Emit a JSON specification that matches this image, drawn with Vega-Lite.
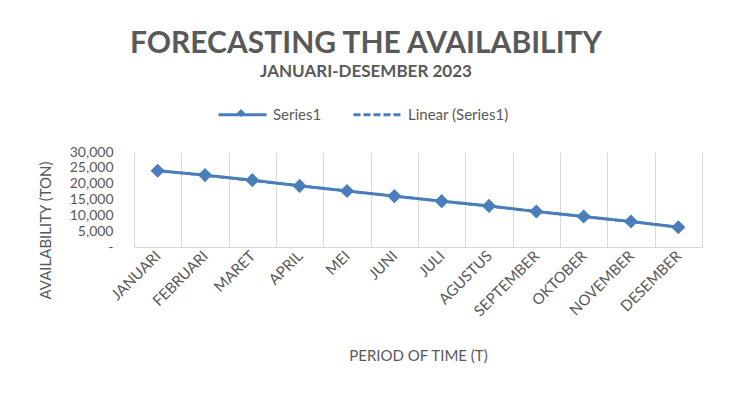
{
  "$schema": "https://vega.github.io/schema/vega-lite/v6.json",
  "width": 568,
  "height": 95,
  "autosize": "none",
  "padding": {"left": 134, "top": 152, "right": 28, "bottom": 153},
  "background": "white",
  "datasets": {
    "src": [
      {"Bulan": "JANUARI", "n": 1, "Availability": 24070},
      {"Bulan": "FEBRUARI", "n": 2, "Availability": 22700},
      {"Bulan": "MARET", "n": 3, "Availability": 21100},
      {"Bulan": "APRIL", "n": 4, "Availability": 19300},
      {"Bulan": "MEI", "n": 5, "Availability": 17700},
      {"Bulan": "JUNI", "n": 6, "Availability": 16050},
      {"Bulan": "JULI", "n": 7, "Availability": 14470},
      {"Bulan": "AGUSTUS", "n": 8, "Availability": 12980},
      {"Bulan": "SEPTEMBER", "n": 9, "Availability": 11200},
      {"Bulan": "OKTOBER", "n": 10, "Availability": 9630},
      {"Bulan": "NOVEMBER", "n": 11, "Availability": 8040},
      {"Bulan": "DESEMBER", "n": 12, "Availability": 6240}
    ]
  },
  "data": {"name": "src"},
  "title": {
    "text": "FORECASTING THE AVAILABILITY",
    "subtitle": "JANUARI-DESEMBER 2023",
    "anchor": "middle",
    "frame": "group",
    "dx": -52,
    "offset": 9,
    "font": "Lato",
    "fontSize": 30,
    "fontWeight": "bold",
    "color": "#595959",
    "subtitleFont": "Lato",
    "subtitleFontSize": 17,
    "subtitleFontWeight": "bold",
    "subtitleColor": "#595959",
    "subtitlePadding": 5
  },
  "config": {
    "view": {"stroke": null},
    "font": "Lato"
  },
  "encoding": {
    "x": {
      "field": "Bulan",
      "type": "nominal",
      "sort": null,
      "scale": {"type": "band", "paddingInner": 0, "paddingOuter": 0,
        "domain": ["JANUARI","FEBRUARI","MARET","APRIL","MEI","JUNI","JULI","AGUSTUS","SEPTEMBER","OKTOBER","NOVEMBER","DESEMBER"]},
      "axis": {
        "title": "PERIOD OF TIME (T)",
        "titleFont": "Lato",
        "titleFontSize": 15,
        "titleFontWeight": "normal",
        "titleColor": "#595959",
        "titleY": 108,
        "titleBaseline": "middle",
        "labelAngle": -45,
        "labelAlign": "right",
        "labelBaseline": "middle",
        "labelFont": "Lato",
        "labelFontSize": 15,
        "labelColor": "#595959",
        "labelPadding": 6,
        "ticks": false,
        "tickBand": "extent",
        "grid": true,
        "gridColor": "#d9d9d9",
        "gridWidth": 1,
        "domainColor": "#d9d9d9",
        "domainWidth": 1
      }
    },
    "y": {
      "field": "Availability",
      "type": "quantitative",
      "scale": {"domain": [0, 30000], "nice": false},
      "axis": {
        "title": "AVAILABILITY (TON)",
        "titleFont": "Lato",
        "titleFontSize": 15,
        "titleFontWeight": "normal",
        "titleColor": "#595959",
        "titleX": -89,
        "titleY": 78,
        "titleBaseline": "middle",
        "titleAlign": "center",
        "values": [0, 5000, 10000, 15000, 20000, 25000, 30000],
        "labelExpr": "datum.value === 0 ? '-' : format(datum.value, ',')",
        "labelFont": "Lato",
        "labelFontSize": 14,
        "labelColor": "#595959",
        "labelPadding": 21,
        "ticks": false,
        "grid": false,
        "domain": false
      }
    }
  },
  "layer": [
    {
      "transform": [
        {"regression": "Availability", "on": "n"},
        {"lookup": "n", "from": {"data": {"name": "src"}, "key": "n", "fields": ["Bulan"]}}
      ],
      "mark": {"type": "line", "color": "#4a7ebb", "strokeWidth": 2.5, "strokeDash": [7, 3]},
      "encoding": {}
    },
    {
      "mark": {"type": "line", "color": "#4a7ebb", "strokeWidth": 3},
      "encoding": {
        "strokeDash": {
          "datum": "Series1",
          "scale": {"domain": ["Series1", "Linear (Series1)"], "range": [[1, 0], [7, 3]]},
          "legend": {
            "title": null,
            "orient": "none",
            "direction": "horizontal",
            "legendX": 83,
            "legendY": -63,
            "symbolSize": 2304,
            "symbolStrokeWidth": 3,
            "labelFont": "Lato",
            "labelFontSize": 15,
            "labelColor": "#595959",
            "labelOffset": 5,
            "columnPadding": 25
          }
        }
      }
    },
    {
      "mark": {"type": "point", "filled": true, "size": 200, "color": "#4a7ebb", "opacity": 1},
      "encoding": {
        "shape": {
          "datum": "Series1",
          "scale": {"domain": ["Series1"], "range": ["diamond"]},
          "legend": {
            "title": null,
            "orient": "none",
            "legendX": 103,
            "legendY": -43,
            "symbolSize": 64,
            "symbolStrokeWidth": 0,
            "symbolFillColor": "#4a7ebb",
            "labelExpr": "''",
            "labelFontSize": 1,
            "labelOffset": 0
          }
        }
      }
    }
  ]
}
